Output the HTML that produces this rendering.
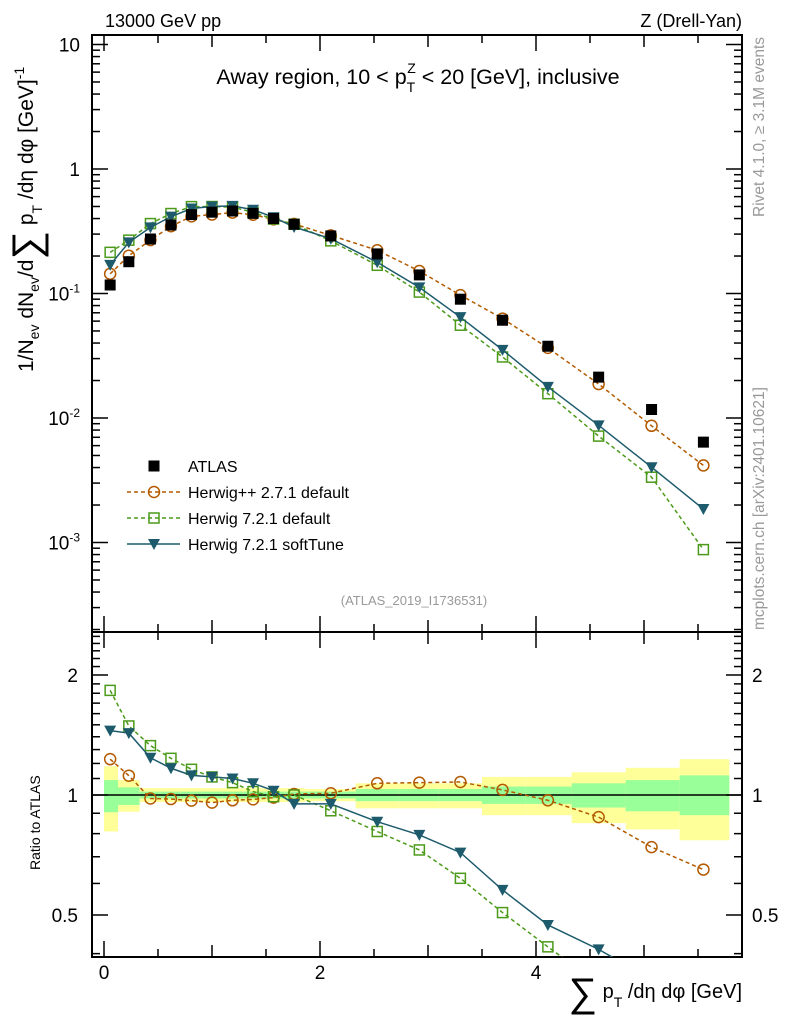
<!DOCTYPE html>
<html><head><meta charset="utf-8"><style>
html,body{margin:0;background:#fff;overflow:hidden;width:786px;height:1024px}
svg{display:block;font-family:"Liberation Sans",sans-serif}
</style></head><body>
<svg id="c" width="786" height="1024" viewBox="0 0 786 1024">
<rect x="92" y="35" width="650" height="922" fill="#fff"/>
<g id="bands"></g><g id="grid"></g><g id="series"></g>
<text x="105" y="27" font-size="18">13000 GeV pp</text>
<text x="742" y="27" font-size="18" text-anchor="end">Z (Drell-Yan)</text>
<text x="418" y="84" font-size="21.5" text-anchor="middle">Away region, 10 &lt; p<tspan font-size="14" dy="8">T</tspan><tspan font-size="14" dx="-8" dy="-19">Z</tspan><tspan dy="11"> &lt; 20 [GeV], inclusive</tspan></text>
<text x="414" y="605" font-size="13" fill="#999" text-anchor="middle">(ATLAS_2019_I1736531)</text>
<text transform="translate(764,37) rotate(-90)" font-size="15.5" fill="#999" text-anchor="end">Rivet 4.1.0, ≥ 3.1M events</text>
<text transform="translate(764,630) rotate(-90)" font-size="15.5" fill="#999">mcplots.cern.ch [arXiv:2401.10621]</text>
<text transform="translate(33,372) rotate(-90)" font-size="21">1/N<tspan font-size="14" dy="6">ev</tspan><tspan dy="-6"> dN</tspan><tspan font-size="14" dy="6">ev</tspan><tspan dy="-6">/d</tspan><tspan font-size="40" dy="7">∑</tspan><tspan dy="-7"> p</tspan><tspan font-size="14" dy="9">T</tspan><tspan dy="-9"> /dη dφ  [GeV]</tspan><tspan font-size="14" dy="-9">-1</tspan></text>
<text transform="translate(40,870) rotate(-90)" font-size="14">Ratio to ATLAS</text>
<text x="742" y="998" font-size="20" text-anchor="end"><tspan font-size="40" dy="8">∑</tspan><tspan dy="-8"> p</tspan><tspan font-size="14" dy="9">T</tspan><tspan dy="-9"> /dη dφ [GeV]</tspan></text>
<g id="legend"></g>
</svg>
<script>
const xEdges=[0,0.13,0.33,0.52,0.71,0.9,1.1,1.29,1.48,1.67,1.86,2.33,2.73,3.1,3.5,3.9,4.33,4.83,5.33,5.79];
const xVals=[0.057,0.23,0.43,0.62,0.81,1.0,1.19,1.38,1.57,1.76,2.1,2.53,2.92,3.3,3.69,4.11,4.58,5.07,5.55];
const atlas=[0.117,0.18,0.274,0.355,0.43,0.45,0.46,0.44,0.40,0.36,0.29,0.208,0.141,0.09,0.061,0.0377,0.0213,0.0117,0.0064];
const ratioHerwigPP=[1.23,1.118,0.98,0.977,0.968,0.957,0.97,0.975,0.985,1.006,1.01,1.07,1.074,1.078,1.03,0.97,0.88,0.74,0.65];
const ratioH721=[1.83,1.49,1.33,1.236,1.16,1.11,1.074,1.02,0.99,1.0,0.913,0.81,0.728,0.618,0.507,0.416,0.336,0.286,0.137];
const ratioSoft=[1.45,1.43,1.24,1.167,1.12,1.11,1.10,1.07,1.025,0.95,0.95,0.857,0.794,0.717,0.578,0.472,0.41,0.344,0.29];
const yelUp=[1.18,1.09,1.04,1.04,1.04,1.04,1.04,1.04,1.04,1.04,1.035,1.07,1.07,1.07,1.11,1.11,1.14,1.17,1.23];
const yelDn=[0.81,0.908,0.96,0.96,0.96,0.96,0.96,0.96,0.96,0.96,0.965,0.926,0.926,0.926,0.89,0.89,0.85,0.82,0.77];
const grnUp=[1.09,1.045,1.02,1.02,1.02,1.02,1.02,1.02,1.02,1.02,1.02,1.035,1.035,1.035,1.05,1.05,1.07,1.09,1.12];
const grnDn=[0.905,0.944,0.98,0.98,0.98,0.98,0.98,0.98,0.98,0.98,0.98,0.965,0.965,0.965,0.95,0.95,0.93,0.91,0.89];
const NS='http://www.w3.org/2000/svg';
const L=92,R=742,T=35,MB=632,B=957;
const X=v=>104+108*v;
const Y=v=>169-124.5*Math.log10(v);
const YR=r=>795-120*Math.log2(r);
function mk(tag,at,parent){const e=document.createElementNS(NS,tag);for(const k in at)e.setAttribute(k,at[k]);(parent||document.getElementById('c')).appendChild(e);return e;}
const bands=document.getElementById('bands'),grid=document.getElementById('grid'),ser=document.getElementById('series');
const defs=mk('defs',{});const cp=mk('clipPath',{id:'rc'},defs);mk('rect',{x:L,y:MB,width:R-L,height:B-MB},cp);
const cp2=mk('clipPath',{id:'mc'},defs);mk('rect',{x:L,y:T,width:R-L,height:MB-T},cp2);
for(let i=0;i<xVals.length;i++){
 const x0=X(xEdges[i]),x1=X(xEdges[i+1]);
 let e=mk('rect',{x:x0,y:YR(yelUp[i]),width:x1-x0,height:YR(yelDn[i])-YR(yelUp[i]),fill:'#ffff99'},bands);
 
 
 e=mk('rect',{x:x0,y:YR(grnUp[i]),width:x1-x0,height:YR(grnDn[i])-YR(grnUp[i]),fill:'#99ff99'},bands);
 
 
}
let f=mk('rect',{x:L,y:T,width:R-L,height:MB-T,fill:'none',stroke:'#000','stroke-width':2},grid);


f=mk('rect',{x:L,y:MB,width:R-L,height:B-MB,fill:'none',stroke:'#000','stroke-width':2},grid);


mk('line',{x1:L,x2:R,y1:YR(1),y2:YR(1),stroke:'#000','stroke-width':1.5},grid);
const yTickLabels=['10<tspan font-size="12" dy="-8">-3</tspan>','10<tspan font-size="12" dy="-8">-2</tspan>','10<tspan font-size="12" dy="-8">-1</tspan>','1','10'];
const yTickVals=[0.001,0.01,0.1,1,10];
for(let d=-4;d<=1;d++)for(let m=1;m<10;m++){const v=m*Math.pow(10,d);const y=Y(v);if(y<T||y>MB)continue;const len=m==1?16:8;
 mk('line',{x1:L,x2:L+len,y1:y,y2:y,stroke:'#000','stroke-width':1.5},grid);mk('line',{x1:R,x2:R-len,y1:y,y2:y,stroke:'#000','stroke-width':1.5},grid);}
yTickVals.forEach((v,i)=>{const t=mk('text',{x:80,y:Y(v)+7,'font-size':19,'text-anchor':'end'},grid);t.innerHTML=yTickLabels[i];
 
 });
const rTickVals=[0.5,1,2];
for(let k=4;k<=25;k++){const r=k/10;const y=YR(r);if(y<MB||y>B)continue;const maj=rTickVals.includes(r);const len=maj?16:8;
 mk('line',{x1:L,x2:L+len,y1:y,y2:y,stroke:'#000','stroke-width':1.5},grid);mk('line',{x1:R,x2:R-len,y1:y,y2:y,stroke:'#000','stroke-width':1.5},grid);}
rTickVals.forEach(r=>{for(const [x,a] of [[78,'end'],[752,'start']]){const t=mk('text',{x:x,y:YR(r)+7,'font-size':19,'text-anchor':a},grid);t.textContent=String(r);
 
 }});
const xTickVals=[0,2,4];
for(let k=0;k<=11;k++){const v=k*0.5;const x=X(v);const maj=(v%1===0);const len=(v%2===0)?16:(maj?12:8);
 for(const [y0,s] of [[B,-1],[MB,-1],[MB,1],[T,1]]) mk('line',{x1:x,x2:x,y1:y0,y2:y0+s*len,stroke:'#000','stroke-width':1.5},grid);}
xTickVals.forEach(v=>{const t=mk('text',{x:X(v),y:979,'font-size':19,'text-anchor':'middle'},grid);t.textContent=String(v);
 
 });
function marker(kind,x,y,g,col){
 if(kind==='sq')return mk('rect',{x:x-5.5,y:y-5.5,width:11,height:11,fill:'#000'},g);
 if(kind==='circ')return mk('circle',{cx:x,cy:y,r:5.5,fill:'none',stroke:col,'stroke-width':1.5},g);
 if(kind==='osq')return mk('rect',{x:x-5,y:y-5,width:10,height:10,fill:'none',stroke:col,'stroke-width':1.5},g);
 if(kind==='tri')return mk('path',{d:`M${x-6},${y-5}L${x+6},${y-5}L${x},${y+6}Z`,fill:col},g);}
const series=[
 {name:'herwigpp-271',r:ratioHerwigPP,col:'#b35a00',k:'circ',dash:'4,3'},
 {name:'herwig-721-default',r:ratioH721,col:'#4c9a1a',k:'osq',dash:'4,3'},
 {name:'herwig-721-softtune',r:ratioSoft,col:'#1d5b6c',k:'tri',dash:''}];
series.forEach(s=>{
 for(const [clip,fy,vals] of [['mc',Y,s.r.map((r,i)=>r*atlas[i])],['rc',YR,s.r]]){
  const g=mk('g',{'clip-path':`url(#${clip})`},ser);
  
  
  const pts=vals.map((v,i)=>X(xVals[i])+','+fy(v)).join(' ');
  mk('polyline',{points:pts,fill:'none',stroke:s.col,'stroke-width':1.5,'stroke-dasharray':s.dash},g);
  vals.forEach((v,i)=>{const m=marker(s.k,X(xVals[i]),fy(v),g,s.col);
   
   });
 }});
const ga=mk('g',{'clip-path':'url(#mc)'},ser);


atlas.forEach((v,i)=>{const m=marker('sq',X(xVals[i]),Y(v),ga);
 
 });
const lg=document.getElementById('legend');
const legItems=[['ATLAS','sq','#000',null,''],['Herwig++ 2.7.1 default','circ','#b35a00','#b35a00','4,3'],['Herwig 7.2.1 default','osq','#4c9a1a','#4c9a1a','4,3'],['Herwig 7.2.1 softTune','tri','#1d5b6c','#1d5b6c','']];
legItems.forEach((it,i)=>{const y=466+26*i;const g=mk('g',{},lg);
 
 
 if(it[3])mk('line',{x1:127,x2:180,y1:y,y2:y,stroke:it[3],'stroke-width':1.5,'stroke-dasharray':it[4]},g);
 marker(it[1],154,y,g,it[2]);
 const t=mk('text',{x:188,y:y+6,'font-size':16},g);t.textContent=it[0];});
</script>
</body></html>
